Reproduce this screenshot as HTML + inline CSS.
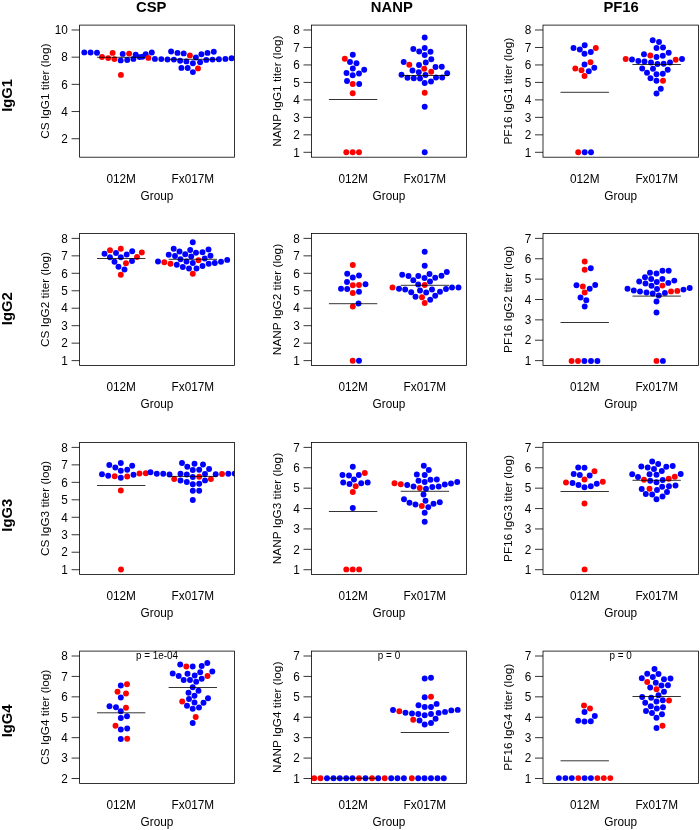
<!DOCTYPE html><html><head><meta charset="utf-8"><style>html,body{margin:0;padding:0;background:#fff}svg{display:block;will-change:transform}text{font-family:"Liberation Sans",sans-serif;fill:#000}</style></head><body>
<svg width="700" height="830" viewBox="0 0 700 830">
<rect width="700" height="830" fill="#fff"/>
<g>
<text x="151.2" y="12" font-size="14.8" font-weight="bold" text-anchor="middle">CSP</text>
<text x="391.8" y="12" font-size="14.8" font-weight="bold" text-anchor="middle">NANP</text>
<text x="621.1" y="12" font-size="14.8" font-weight="bold" text-anchor="middle">PF16</text>
<text transform="translate(12,95.4) rotate(-90)" font-size="14.8" font-weight="bold" text-anchor="middle">IgG1</text>
<line x1="71.60" y1="138.72" x2="79.6" y2="138.72" stroke="#000" stroke-width="0.8"/><text transform="translate(67.80,142.97) scale(1,1.06)" font-size="11.8" text-anchor="end">2</text><line x1="71.60" y1="111.54" x2="79.6" y2="111.54" stroke="#000" stroke-width="0.8"/><text transform="translate(67.80,115.79) scale(1,1.06)" font-size="11.8" text-anchor="end">4</text><line x1="71.60" y1="84.35" x2="79.6" y2="84.35" stroke="#000" stroke-width="0.8"/><text transform="translate(67.80,88.60) scale(1,1.06)" font-size="11.8" text-anchor="end">6</text><line x1="71.60" y1="57.17" x2="79.6" y2="57.17" stroke="#000" stroke-width="0.8"/><text transform="translate(67.80,61.42) scale(1,1.06)" font-size="11.8" text-anchor="end">8</text><line x1="71.60" y1="29.99" x2="79.6" y2="29.99" stroke="#000" stroke-width="0.8"/><text transform="translate(67.80,34.24) scale(1,1.06)" font-size="11.8" text-anchor="end">10</text><text transform="translate(49.00,91.15) rotate(-90)" font-size="11.8" text-anchor="middle">CS IgG1 titer (log)</text><text transform="translate(121.17,182.70) scale(1,1.06)" font-size="11.8" text-anchor="middle">012M</text><text transform="translate(192.83,182.70) scale(1,1.06)" font-size="11.8" text-anchor="middle">Fx017M</text><text transform="translate(157.00,199.95) scale(1,1.06)" font-size="11.8" text-anchor="middle">Group</text><clipPath id="c00"><rect x="79.6" y="25.1" width="154.80" height="132.10"/></clipPath><g clip-path="url(#c00)"><circle cx="84.3" cy="52.4" r="2.95" fill="#00f"/><circle cx="90.6" cy="52.5" r="2.95" fill="#00f"/><circle cx="97.0" cy="52.7" r="2.95" fill="#00f"/><circle cx="102.0" cy="57.0" r="2.95" fill="#f00"/><circle cx="108.2" cy="58.1" r="2.95" fill="#f00"/><circle cx="112.6" cy="52.9" r="2.95" fill="#f00"/><circle cx="114.4" cy="59.1" r="2.95" fill="#f00"/><circle cx="122.7" cy="53.9" r="2.95" fill="#00f"/><circle cx="120.7" cy="60.4" r="2.95" fill="#00f"/><circle cx="127.2" cy="60.0" r="2.95" fill="#00f"/><circle cx="129.1" cy="53.6" r="2.95" fill="#f00"/><circle cx="120.9" cy="74.9" r="2.95" fill="#f00"/><circle cx="133.4" cy="58.9" r="2.95" fill="#00f"/><circle cx="135.7" cy="54.6" r="2.95" fill="#00f"/><circle cx="139.6" cy="57.1" r="2.95" fill="#00f"/><circle cx="142.5" cy="56.8" r="2.95" fill="#00f"/><circle cx="145.7" cy="54.3" r="2.95" fill="#00f"/><circle cx="148.4" cy="57.9" r="2.95" fill="#f00"/><circle cx="151.8" cy="52.5" r="2.95" fill="#00f"/><circle cx="154.9" cy="58.9" r="2.95" fill="#00f"/><circle cx="161.3" cy="59.1" r="2.95" fill="#00f"/><circle cx="167.5" cy="59.5" r="2.95" fill="#00f"/><circle cx="171.1" cy="51.5" r="2.95" fill="#00f"/><circle cx="173.9" cy="59.6" r="2.95" fill="#00f"/><circle cx="177.5" cy="52.9" r="2.95" fill="#00f"/><circle cx="180.1" cy="60.7" r="2.95" fill="#00f"/><circle cx="183.7" cy="53.4" r="2.95" fill="#00f"/><circle cx="186.4" cy="61.4" r="2.95" fill="#00f"/><circle cx="189.9" cy="55.4" r="2.95" fill="#f00"/><circle cx="192.9" cy="63.2" r="2.95" fill="#00f"/><circle cx="195.9" cy="57.5" r="2.95" fill="#00f"/><circle cx="200.1" cy="62.2" r="2.95" fill="#00f"/><circle cx="201.4" cy="54.3" r="2.95" fill="#00f"/><circle cx="206.3" cy="59.9" r="2.95" fill="#00f"/><circle cx="207.5" cy="52.9" r="2.95" fill="#00f"/><circle cx="212.5" cy="59.6" r="2.95" fill="#00f"/><circle cx="213.8" cy="51.8" r="2.95" fill="#00f"/><circle cx="218.9" cy="59.3" r="2.95" fill="#00f"/><circle cx="225.4" cy="58.9" r="2.95" fill="#00f"/><circle cx="231.6" cy="58.2" r="2.95" fill="#00f"/><circle cx="181.4" cy="67.9" r="2.95" fill="#00f"/><circle cx="187.7" cy="68.0" r="2.95" fill="#00f"/><circle cx="198.0" cy="68.4" r="2.95" fill="#f00"/><circle cx="192.9" cy="72.1" r="2.95" fill="#00f"/></g><line x1="96.97" y1="57.3" x2="145.37" y2="57.3" stroke="#000" stroke-width="0.8"/><line x1="168.63" y1="59.3" x2="217.03" y2="59.3" stroke="#000" stroke-width="0.8"/><rect x="79.6" y="25.1" width="154.80" height="132.10" fill="none" stroke="#000" stroke-width="0.8"/>
<line x1="303.50" y1="152.31" x2="311.5" y2="152.31" stroke="#000" stroke-width="0.8"/><text transform="translate(299.70,156.56) scale(1,1.06)" font-size="11.8" text-anchor="end">1</text><line x1="303.50" y1="134.83" x2="311.5" y2="134.83" stroke="#000" stroke-width="0.8"/><text transform="translate(299.70,139.08) scale(1,1.06)" font-size="11.8" text-anchor="end">2</text><line x1="303.50" y1="117.36" x2="311.5" y2="117.36" stroke="#000" stroke-width="0.8"/><text transform="translate(299.70,121.61) scale(1,1.06)" font-size="11.8" text-anchor="end">3</text><line x1="303.50" y1="99.89" x2="311.5" y2="99.89" stroke="#000" stroke-width="0.8"/><text transform="translate(299.70,104.14) scale(1,1.06)" font-size="11.8" text-anchor="end">4</text><line x1="303.50" y1="82.41" x2="311.5" y2="82.41" stroke="#000" stroke-width="0.8"/><text transform="translate(299.70,86.66) scale(1,1.06)" font-size="11.8" text-anchor="end">5</text><line x1="303.50" y1="64.94" x2="311.5" y2="64.94" stroke="#000" stroke-width="0.8"/><text transform="translate(299.70,69.19) scale(1,1.06)" font-size="11.8" text-anchor="end">6</text><line x1="303.50" y1="47.47" x2="311.5" y2="47.47" stroke="#000" stroke-width="0.8"/><text transform="translate(299.70,51.72) scale(1,1.06)" font-size="11.8" text-anchor="end">7</text><line x1="303.50" y1="29.99" x2="311.5" y2="29.99" stroke="#000" stroke-width="0.8"/><text transform="translate(299.70,34.24) scale(1,1.06)" font-size="11.8" text-anchor="end">8</text><text transform="translate(280.90,91.15) rotate(-90)" font-size="11.8" text-anchor="middle">NANP IgG1 titer (log)</text><text transform="translate(353.12,182.70) scale(1,1.06)" font-size="11.8" text-anchor="middle">012M</text><text transform="translate(424.88,182.70) scale(1,1.06)" font-size="11.8" text-anchor="middle">Fx017M</text><text transform="translate(389.00,199.95) scale(1,1.06)" font-size="11.8" text-anchor="middle">Group</text><clipPath id="c01"><rect x="311.5" y="25.1" width="155.00" height="132.10"/></clipPath><g clip-path="url(#c01)"><circle cx="352.8" cy="54.7" r="2.95" fill="#00f"/><circle cx="344.8" cy="58.8" r="2.95" fill="#f00"/><circle cx="350.0" cy="62.0" r="2.95" fill="#00f"/><circle cx="356.5" cy="63.2" r="2.95" fill="#00f"/><circle cx="352.8" cy="68.5" r="2.95" fill="#00f"/><circle cx="364.2" cy="69.7" r="2.95" fill="#00f"/><circle cx="346.5" cy="73.0" r="2.95" fill="#00f"/><circle cx="352.7" cy="75.2" r="2.95" fill="#00f"/><circle cx="359.0" cy="73.5" r="2.95" fill="#00f"/><circle cx="347.0" cy="81.0" r="2.95" fill="#00f"/><circle cx="352.7" cy="84.0" r="2.95" fill="#f00"/><circle cx="359.2" cy="84.0" r="2.95" fill="#00f"/><circle cx="352.7" cy="93.2" r="2.95" fill="#f00"/><circle cx="346.3" cy="152.2" r="2.95" fill="#f00"/><circle cx="352.7" cy="152.2" r="2.95" fill="#f00"/><circle cx="359.0" cy="152.2" r="2.95" fill="#f00"/><circle cx="424.7" cy="37.5" r="2.95" fill="#00f"/><circle cx="413.3" cy="49.0" r="2.95" fill="#00f"/><circle cx="424.7" cy="48.0" r="2.95" fill="#00f"/><circle cx="419.2" cy="51.5" r="2.95" fill="#00f"/><circle cx="430.5" cy="51.8" r="2.95" fill="#00f"/><circle cx="424.7" cy="55.0" r="2.95" fill="#00f"/><circle cx="431.3" cy="59.2" r="2.95" fill="#00f"/><circle cx="403.7" cy="62.0" r="2.95" fill="#00f"/><circle cx="425.8" cy="62.5" r="2.95" fill="#00f"/><circle cx="409.3" cy="64.8" r="2.95" fill="#f00"/><circle cx="419.0" cy="65.0" r="2.95" fill="#00f"/><circle cx="424.2" cy="68.8" r="2.95" fill="#f00"/><circle cx="435.5" cy="67.0" r="2.95" fill="#00f"/><circle cx="441.8" cy="66.8" r="2.95" fill="#00f"/><circle cx="412.5" cy="70.5" r="2.95" fill="#00f"/><circle cx="418.8" cy="72.2" r="2.95" fill="#00f"/><circle cx="431.2" cy="71.8" r="2.95" fill="#f00"/><circle cx="447.2" cy="73.2" r="2.95" fill="#00f"/><circle cx="401.5" cy="74.8" r="2.95" fill="#00f"/><circle cx="425.5" cy="75.0" r="2.95" fill="#00f"/><circle cx="407.5" cy="77.8" r="2.95" fill="#00f"/><circle cx="413.8" cy="78.2" r="2.95" fill="#00f"/><circle cx="420.0" cy="78.5" r="2.95" fill="#00f"/><circle cx="436.0" cy="77.5" r="2.95" fill="#00f"/><circle cx="442.2" cy="77.5" r="2.95" fill="#00f"/><circle cx="424.7" cy="83.0" r="2.95" fill="#00f"/><circle cx="431.0" cy="81.5" r="2.95" fill="#00f"/><circle cx="424.7" cy="92.8" r="2.95" fill="#f00"/><circle cx="424.7" cy="106.8" r="2.95" fill="#00f"/><circle cx="424.7" cy="152.2" r="2.95" fill="#00f"/></g><line x1="328.92" y1="99.5" x2="377.32" y2="99.5" stroke="#000" stroke-width="0.8"/><line x1="400.68" y1="75.5" x2="449.08" y2="75.5" stroke="#000" stroke-width="0.8"/><rect x="311.5" y="25.1" width="155.00" height="132.10" fill="none" stroke="#000" stroke-width="0.8"/>
<line x1="535.00" y1="152.31" x2="543.0" y2="152.31" stroke="#000" stroke-width="0.8"/><text transform="translate(531.20,156.56) scale(1,1.06)" font-size="11.8" text-anchor="end">1</text><line x1="535.00" y1="134.83" x2="543.0" y2="134.83" stroke="#000" stroke-width="0.8"/><text transform="translate(531.20,139.08) scale(1,1.06)" font-size="11.8" text-anchor="end">2</text><line x1="535.00" y1="117.36" x2="543.0" y2="117.36" stroke="#000" stroke-width="0.8"/><text transform="translate(531.20,121.61) scale(1,1.06)" font-size="11.8" text-anchor="end">3</text><line x1="535.00" y1="99.89" x2="543.0" y2="99.89" stroke="#000" stroke-width="0.8"/><text transform="translate(531.20,104.14) scale(1,1.06)" font-size="11.8" text-anchor="end">4</text><line x1="535.00" y1="82.41" x2="543.0" y2="82.41" stroke="#000" stroke-width="0.8"/><text transform="translate(531.20,86.66) scale(1,1.06)" font-size="11.8" text-anchor="end">5</text><line x1="535.00" y1="64.94" x2="543.0" y2="64.94" stroke="#000" stroke-width="0.8"/><text transform="translate(531.20,69.19) scale(1,1.06)" font-size="11.8" text-anchor="end">6</text><line x1="535.00" y1="47.47" x2="543.0" y2="47.47" stroke="#000" stroke-width="0.8"/><text transform="translate(531.20,51.72) scale(1,1.06)" font-size="11.8" text-anchor="end">7</text><line x1="535.00" y1="29.99" x2="543.0" y2="29.99" stroke="#000" stroke-width="0.8"/><text transform="translate(531.20,34.24) scale(1,1.06)" font-size="11.8" text-anchor="end">8</text><text transform="translate(512.40,91.15) rotate(-90)" font-size="11.8" text-anchor="middle">PF16 IgG1 titer (log)</text><text transform="translate(584.73,182.70) scale(1,1.06)" font-size="11.8" text-anchor="middle">012M</text><text transform="translate(656.67,182.70) scale(1,1.06)" font-size="11.8" text-anchor="middle">Fx017M</text><text transform="translate(620.70,199.95) scale(1,1.06)" font-size="11.8" text-anchor="middle">Group</text><clipPath id="c02"><rect x="543.0" y="25.1" width="155.40" height="132.10"/></clipPath><g clip-path="url(#c02)"><circle cx="584.7" cy="45.3" r="2.95" fill="#00f"/><circle cx="573.5" cy="48.0" r="2.95" fill="#00f"/><circle cx="579.8" cy="49.5" r="2.95" fill="#00f"/><circle cx="595.8" cy="48.0" r="2.95" fill="#f00"/><circle cx="584.5" cy="53.8" r="2.95" fill="#00f"/><circle cx="590.8" cy="52.0" r="2.95" fill="#00f"/><circle cx="590.5" cy="62.2" r="2.95" fill="#f00"/><circle cx="584.5" cy="64.5" r="2.95" fill="#00f"/><circle cx="575.3" cy="68.5" r="2.95" fill="#f00"/><circle cx="594.3" cy="67.8" r="2.95" fill="#00f"/><circle cx="581.5" cy="70.2" r="2.95" fill="#f00"/><circle cx="588.8" cy="71.2" r="2.95" fill="#00f"/><circle cx="584.5" cy="76.0" r="2.95" fill="#f00"/><circle cx="578.2" cy="152.2" r="2.95" fill="#f00"/><circle cx="584.7" cy="152.2" r="2.95" fill="#00f"/><circle cx="591.0" cy="152.2" r="2.95" fill="#00f"/><circle cx="652.7" cy="40.2" r="2.95" fill="#00f"/><circle cx="659.0" cy="42.0" r="2.95" fill="#00f"/><circle cx="656.5" cy="48.0" r="2.95" fill="#00f"/><circle cx="663.0" cy="47.5" r="2.95" fill="#00f"/><circle cx="644.0" cy="54.2" r="2.95" fill="#00f"/><circle cx="650.3" cy="55.5" r="2.95" fill="#f00"/><circle cx="656.5" cy="57.0" r="2.95" fill="#00f"/><circle cx="662.8" cy="55.8" r="2.95" fill="#00f"/><circle cx="668.7" cy="52.8" r="2.95" fill="#00f"/><circle cx="625.7" cy="59.0" r="2.95" fill="#f00"/><circle cx="632.0" cy="59.5" r="2.95" fill="#00f"/><circle cx="638.3" cy="61.0" r="2.95" fill="#00f"/><circle cx="644.5" cy="61.5" r="2.95" fill="#00f"/><circle cx="651.0" cy="62.5" r="2.95" fill="#00f"/><circle cx="657.5" cy="64.0" r="2.95" fill="#00f"/><circle cx="663.7" cy="63.8" r="2.95" fill="#00f"/><circle cx="670.0" cy="62.5" r="2.95" fill="#00f"/><circle cx="675.7" cy="59.8" r="2.95" fill="#f00"/><circle cx="682.0" cy="59.0" r="2.95" fill="#00f"/><circle cx="642.2" cy="68.5" r="2.95" fill="#00f"/><circle cx="653.0" cy="68.8" r="2.95" fill="#00f"/><circle cx="667.7" cy="69.8" r="2.95" fill="#00f"/><circle cx="647.0" cy="72.8" r="2.95" fill="#00f"/><circle cx="656.5" cy="74.2" r="2.95" fill="#00f"/><circle cx="662.8" cy="73.8" r="2.95" fill="#00f"/><circle cx="650.5" cy="78.2" r="2.95" fill="#00f"/><circle cx="656.5" cy="80.8" r="2.95" fill="#00f"/><circle cx="663.0" cy="80.8" r="2.95" fill="#f00"/><circle cx="660.8" cy="88.8" r="2.95" fill="#00f"/><circle cx="656.5" cy="93.5" r="2.95" fill="#00f"/></g><line x1="560.53" y1="92.3" x2="608.93" y2="92.3" stroke="#000" stroke-width="0.8"/><line x1="632.47" y1="64.5" x2="680.87" y2="64.5" stroke="#000" stroke-width="0.8"/><rect x="543.0" y="25.1" width="155.40" height="132.10" fill="none" stroke="#000" stroke-width="0.8"/>
<text transform="translate(12,308.7) rotate(-90)" font-size="14.8" font-weight="bold" text-anchor="middle">IgG2</text>
<line x1="71.60" y1="360.61" x2="79.6" y2="360.61" stroke="#000" stroke-width="0.8"/><text transform="translate(67.80,364.86) scale(1,1.06)" font-size="11.8" text-anchor="end">1</text><line x1="71.60" y1="343.15" x2="79.6" y2="343.15" stroke="#000" stroke-width="0.8"/><text transform="translate(67.80,347.40) scale(1,1.06)" font-size="11.8" text-anchor="end">2</text><line x1="71.60" y1="325.69" x2="79.6" y2="325.69" stroke="#000" stroke-width="0.8"/><text transform="translate(67.80,329.94) scale(1,1.06)" font-size="11.8" text-anchor="end">3</text><line x1="71.60" y1="308.23" x2="79.6" y2="308.23" stroke="#000" stroke-width="0.8"/><text transform="translate(67.80,312.48) scale(1,1.06)" font-size="11.8" text-anchor="end">4</text><line x1="71.60" y1="290.77" x2="79.6" y2="290.77" stroke="#000" stroke-width="0.8"/><text transform="translate(67.80,295.02) scale(1,1.06)" font-size="11.8" text-anchor="end">5</text><line x1="71.60" y1="273.31" x2="79.6" y2="273.31" stroke="#000" stroke-width="0.8"/><text transform="translate(67.80,277.56) scale(1,1.06)" font-size="11.8" text-anchor="end">6</text><line x1="71.60" y1="255.85" x2="79.6" y2="255.85" stroke="#000" stroke-width="0.8"/><text transform="translate(67.80,260.10) scale(1,1.06)" font-size="11.8" text-anchor="end">7</text><line x1="71.60" y1="238.39" x2="79.6" y2="238.39" stroke="#000" stroke-width="0.8"/><text transform="translate(67.80,242.64) scale(1,1.06)" font-size="11.8" text-anchor="end">8</text><text transform="translate(49.00,299.50) rotate(-90)" font-size="11.8" text-anchor="middle">CS IgG2 titer (log)</text><text transform="translate(121.17,391.00) scale(1,1.06)" font-size="11.8" text-anchor="middle">012M</text><text transform="translate(192.83,391.00) scale(1,1.06)" font-size="11.8" text-anchor="middle">Fx017M</text><text transform="translate(157.00,408.25) scale(1,1.06)" font-size="11.8" text-anchor="middle">Group</text><clipPath id="c10"><rect x="79.6" y="233.5" width="154.80" height="132.00"/></clipPath><g clip-path="url(#c10)"><circle cx="104.5" cy="253.8" r="2.95" fill="#00f"/><circle cx="110.0" cy="250.3" r="2.95" fill="#f00"/><circle cx="110.0" cy="257.2" r="2.95" fill="#00f"/><circle cx="116.0" cy="253.0" r="2.95" fill="#00f"/><circle cx="120.8" cy="248.8" r="2.95" fill="#f00"/><circle cx="120.8" cy="257.2" r="2.95" fill="#00f"/><circle cx="126.7" cy="254.5" r="2.95" fill="#00f"/><circle cx="132.2" cy="251.2" r="2.95" fill="#00f"/><circle cx="141.8" cy="252.5" r="2.95" fill="#f00"/><circle cx="137.0" cy="257.0" r="2.95" fill="#f00"/><circle cx="114.5" cy="261.8" r="2.95" fill="#00f"/><circle cx="126.0" cy="263.2" r="2.95" fill="#f00"/><circle cx="132.0" cy="261.0" r="2.95" fill="#00f"/><circle cx="118.5" cy="266.8" r="2.95" fill="#00f"/><circle cx="124.5" cy="269.5" r="2.95" fill="#00f"/><circle cx="120.8" cy="274.8" r="2.95" fill="#f00"/><circle cx="192.8" cy="242.2" r="2.95" fill="#00f"/><circle cx="173.7" cy="248.8" r="2.95" fill="#00f"/><circle cx="179.5" cy="251.5" r="2.95" fill="#00f"/><circle cx="190.2" cy="250.0" r="2.95" fill="#00f"/><circle cx="196.0" cy="252.8" r="2.95" fill="#00f"/><circle cx="202.5" cy="252.2" r="2.95" fill="#00f"/><circle cx="208.5" cy="249.5" r="2.95" fill="#00f"/><circle cx="168.7" cy="254.8" r="2.95" fill="#00f"/><circle cx="175.0" cy="256.0" r="2.95" fill="#00f"/><circle cx="185.2" cy="254.2" r="2.95" fill="#00f"/><circle cx="191.2" cy="256.5" r="2.95" fill="#00f"/><circle cx="210.5" cy="255.8" r="2.95" fill="#00f"/><circle cx="180.5" cy="259.2" r="2.95" fill="#00f"/><circle cx="204.7" cy="258.5" r="2.95" fill="#00f"/><circle cx="198.5" cy="260.2" r="2.95" fill="#f00"/><circle cx="186.5" cy="261.5" r="2.95" fill="#00f"/><circle cx="192.8" cy="263.0" r="2.95" fill="#00f"/><circle cx="158.0" cy="261.5" r="2.95" fill="#00f"/><circle cx="164.3" cy="262.2" r="2.95" fill="#f00"/><circle cx="170.5" cy="263.8" r="2.95" fill="#f00"/><circle cx="176.8" cy="264.8" r="2.95" fill="#00f"/><circle cx="182.8" cy="267.0" r="2.95" fill="#00f"/><circle cx="189.0" cy="268.5" r="2.95" fill="#00f"/><circle cx="196.5" cy="268.5" r="2.95" fill="#00f"/><circle cx="202.5" cy="266.0" r="2.95" fill="#00f"/><circle cx="208.7" cy="263.8" r="2.95" fill="#00f"/><circle cx="214.8" cy="263.0" r="2.95" fill="#00f"/><circle cx="221.0" cy="261.8" r="2.95" fill="#00f"/><circle cx="227.2" cy="259.9" r="2.95" fill="#00f"/><circle cx="192.8" cy="273.8" r="2.95" fill="#f00"/></g><line x1="96.97" y1="258.5" x2="145.37" y2="258.5" stroke="#000" stroke-width="0.8"/><line x1="168.63" y1="259.3" x2="217.03" y2="259.3" stroke="#000" stroke-width="0.8"/><rect x="79.6" y="233.5" width="154.80" height="132.00" fill="none" stroke="#000" stroke-width="0.8"/>
<line x1="303.50" y1="360.61" x2="311.5" y2="360.61" stroke="#000" stroke-width="0.8"/><text transform="translate(299.70,364.86) scale(1,1.06)" font-size="11.8" text-anchor="end">1</text><line x1="303.50" y1="343.15" x2="311.5" y2="343.15" stroke="#000" stroke-width="0.8"/><text transform="translate(299.70,347.40) scale(1,1.06)" font-size="11.8" text-anchor="end">2</text><line x1="303.50" y1="325.69" x2="311.5" y2="325.69" stroke="#000" stroke-width="0.8"/><text transform="translate(299.70,329.94) scale(1,1.06)" font-size="11.8" text-anchor="end">3</text><line x1="303.50" y1="308.23" x2="311.5" y2="308.23" stroke="#000" stroke-width="0.8"/><text transform="translate(299.70,312.48) scale(1,1.06)" font-size="11.8" text-anchor="end">4</text><line x1="303.50" y1="290.77" x2="311.5" y2="290.77" stroke="#000" stroke-width="0.8"/><text transform="translate(299.70,295.02) scale(1,1.06)" font-size="11.8" text-anchor="end">5</text><line x1="303.50" y1="273.31" x2="311.5" y2="273.31" stroke="#000" stroke-width="0.8"/><text transform="translate(299.70,277.56) scale(1,1.06)" font-size="11.8" text-anchor="end">6</text><line x1="303.50" y1="255.85" x2="311.5" y2="255.85" stroke="#000" stroke-width="0.8"/><text transform="translate(299.70,260.10) scale(1,1.06)" font-size="11.8" text-anchor="end">7</text><line x1="303.50" y1="238.39" x2="311.5" y2="238.39" stroke="#000" stroke-width="0.8"/><text transform="translate(299.70,242.64) scale(1,1.06)" font-size="11.8" text-anchor="end">8</text><text transform="translate(280.90,299.50) rotate(-90)" font-size="11.8" text-anchor="middle">NANP IgG2 titer (log)</text><text transform="translate(353.12,391.00) scale(1,1.06)" font-size="11.8" text-anchor="middle">012M</text><text transform="translate(424.88,391.00) scale(1,1.06)" font-size="11.8" text-anchor="middle">Fx017M</text><text transform="translate(389.00,408.25) scale(1,1.06)" font-size="11.8" text-anchor="middle">Group</text><clipPath id="c11"><rect x="311.5" y="233.5" width="155.00" height="132.00"/></clipPath><g clip-path="url(#c11)"><circle cx="352.8" cy="265.0" r="2.95" fill="#f00"/><circle cx="347.2" cy="273.8" r="2.95" fill="#00f"/><circle cx="352.8" cy="277.5" r="2.95" fill="#00f"/><circle cx="359.0" cy="275.5" r="2.95" fill="#00f"/><circle cx="347.0" cy="282.0" r="2.95" fill="#00f"/><circle cx="352.8" cy="285.2" r="2.95" fill="#f00"/><circle cx="359.0" cy="285.0" r="2.95" fill="#f00"/><circle cx="365.5" cy="284.2" r="2.95" fill="#00f"/><circle cx="341.0" cy="288.8" r="2.95" fill="#00f"/><circle cx="347.2" cy="289.0" r="2.95" fill="#00f"/><circle cx="352.8" cy="293.0" r="2.95" fill="#f00"/><circle cx="359.0" cy="291.8" r="2.95" fill="#00f"/><circle cx="358.5" cy="303.5" r="2.95" fill="#00f"/><circle cx="352.8" cy="306.5" r="2.95" fill="#f00"/><circle cx="352.7" cy="360.8" r="2.95" fill="#f00"/><circle cx="359.0" cy="360.8" r="2.95" fill="#00f"/><circle cx="424.7" cy="251.8" r="2.95" fill="#00f"/><circle cx="424.7" cy="265.8" r="2.95" fill="#00f"/><circle cx="402.2" cy="274.8" r="2.95" fill="#00f"/><circle cx="408.5" cy="276.0" r="2.95" fill="#00f"/><circle cx="418.3" cy="276.0" r="2.95" fill="#00f"/><circle cx="429.5" cy="274.0" r="2.95" fill="#00f"/><circle cx="424.5" cy="278.0" r="2.95" fill="#00f"/><circle cx="435.2" cy="277.8" r="2.95" fill="#00f"/><circle cx="441.5" cy="275.8" r="2.95" fill="#00f"/><circle cx="446.8" cy="272.0" r="2.95" fill="#00f"/><circle cx="413.3" cy="280.2" r="2.95" fill="#00f"/><circle cx="430.0" cy="281.5" r="2.95" fill="#00f"/><circle cx="418.2" cy="284.5" r="2.95" fill="#00f"/><circle cx="424.7" cy="285.0" r="2.95" fill="#f00"/><circle cx="392.5" cy="287.5" r="2.95" fill="#f00"/><circle cx="399.0" cy="288.8" r="2.95" fill="#00f"/><circle cx="405.2" cy="289.5" r="2.95" fill="#00f"/><circle cx="411.2" cy="292.2" r="2.95" fill="#00f"/><circle cx="420.0" cy="290.5" r="2.95" fill="#00f"/><circle cx="426.2" cy="292.5" r="2.95" fill="#00f"/><circle cx="432.0" cy="289.5" r="2.95" fill="#00f"/><circle cx="440.0" cy="291.8" r="2.95" fill="#00f"/><circle cx="446.0" cy="289.0" r="2.95" fill="#00f"/><circle cx="452.0" cy="287.5" r="2.95" fill="#00f"/><circle cx="458.5" cy="287.5" r="2.95" fill="#00f"/><circle cx="415.5" cy="296.8" r="2.95" fill="#00f"/><circle cx="422.0" cy="297.2" r="2.95" fill="#f00"/><circle cx="435.2" cy="295.8" r="2.95" fill="#00f"/><circle cx="430.2" cy="299.8" r="2.95" fill="#00f"/><circle cx="424.7" cy="303.0" r="2.95" fill="#f00"/></g><line x1="328.92" y1="303.7" x2="377.32" y2="303.7" stroke="#000" stroke-width="0.8"/><line x1="400.68" y1="285.3" x2="449.08" y2="285.3" stroke="#000" stroke-width="0.8"/><rect x="311.5" y="233.5" width="155.00" height="132.00" fill="none" stroke="#000" stroke-width="0.8"/>
<line x1="535.00" y1="360.61" x2="543.0" y2="360.61" stroke="#000" stroke-width="0.8"/><text transform="translate(531.20,364.86) scale(1,1.06)" font-size="11.8" text-anchor="end">1</text><line x1="535.00" y1="340.24" x2="543.0" y2="340.24" stroke="#000" stroke-width="0.8"/><text transform="translate(531.20,344.49) scale(1,1.06)" font-size="11.8" text-anchor="end">2</text><line x1="535.00" y1="319.87" x2="543.0" y2="319.87" stroke="#000" stroke-width="0.8"/><text transform="translate(531.20,324.12) scale(1,1.06)" font-size="11.8" text-anchor="end">3</text><line x1="535.00" y1="299.50" x2="543.0" y2="299.50" stroke="#000" stroke-width="0.8"/><text transform="translate(531.20,303.75) scale(1,1.06)" font-size="11.8" text-anchor="end">4</text><line x1="535.00" y1="279.13" x2="543.0" y2="279.13" stroke="#000" stroke-width="0.8"/><text transform="translate(531.20,283.38) scale(1,1.06)" font-size="11.8" text-anchor="end">5</text><line x1="535.00" y1="258.76" x2="543.0" y2="258.76" stroke="#000" stroke-width="0.8"/><text transform="translate(531.20,263.01) scale(1,1.06)" font-size="11.8" text-anchor="end">6</text><line x1="535.00" y1="238.39" x2="543.0" y2="238.39" stroke="#000" stroke-width="0.8"/><text transform="translate(531.20,242.64) scale(1,1.06)" font-size="11.8" text-anchor="end">7</text><text transform="translate(512.40,299.50) rotate(-90)" font-size="11.8" text-anchor="middle">PF16 IgG2 titer (log)</text><text transform="translate(584.73,391.00) scale(1,1.06)" font-size="11.8" text-anchor="middle">012M</text><text transform="translate(656.67,391.00) scale(1,1.06)" font-size="11.8" text-anchor="middle">Fx017M</text><text transform="translate(620.70,408.25) scale(1,1.06)" font-size="11.8" text-anchor="middle">Group</text><clipPath id="c12"><rect x="543.0" y="233.5" width="155.40" height="132.00"/></clipPath><g clip-path="url(#c12)"><circle cx="584.7" cy="261.5" r="2.95" fill="#f00"/><circle cx="584.7" cy="269.8" r="2.95" fill="#f00"/><circle cx="590.8" cy="268.3" r="2.95" fill="#00f"/><circle cx="576.5" cy="285.2" r="2.95" fill="#00f"/><circle cx="582.8" cy="286.5" r="2.95" fill="#f00"/><circle cx="595.2" cy="285.0" r="2.95" fill="#00f"/><circle cx="589.7" cy="288.8" r="2.95" fill="#00f"/><circle cx="584.7" cy="292.5" r="2.95" fill="#f00"/><circle cx="580.5" cy="297.5" r="2.95" fill="#00f"/><circle cx="586.3" cy="300.2" r="2.95" fill="#00f"/><circle cx="584.7" cy="306.5" r="2.95" fill="#00f"/><circle cx="571.6" cy="361.0" r="2.95" fill="#f00"/><circle cx="578.0" cy="361.0" r="2.95" fill="#f00"/><circle cx="584.4" cy="361.0" r="2.95" fill="#00f"/><circle cx="591.0" cy="361.0" r="2.95" fill="#00f"/><circle cx="597.4" cy="361.0" r="2.95" fill="#00f"/><circle cx="656.5" cy="360.9" r="2.95" fill="#f00"/><circle cx="662.9" cy="360.9" r="2.95" fill="#00f"/><circle cx="650.0" cy="272.8" r="2.95" fill="#00f"/><circle cx="656.5" cy="273.5" r="2.95" fill="#00f"/><circle cx="662.5" cy="270.8" r="2.95" fill="#00f"/><circle cx="668.7" cy="270.7" r="2.95" fill="#00f"/><circle cx="645.0" cy="277.2" r="2.95" fill="#00f"/><circle cx="651.2" cy="279.0" r="2.95" fill="#00f"/><circle cx="662.4" cy="278.9" r="2.95" fill="#00f"/><circle cx="674.3" cy="280.6" r="2.95" fill="#00f"/><circle cx="639.2" cy="281.5" r="2.95" fill="#00f"/><circle cx="645.5" cy="283.5" r="2.95" fill="#00f"/><circle cx="656.8" cy="282.0" r="2.95" fill="#00f"/><circle cx="668.3" cy="282.9" r="2.95" fill="#00f"/><circle cx="651.5" cy="285.8" r="2.95" fill="#00f"/><circle cx="662.4" cy="285.6" r="2.95" fill="#f00"/><circle cx="657.0" cy="289.0" r="2.95" fill="#00f"/><circle cx="627.5" cy="288.8" r="2.95" fill="#00f"/><circle cx="633.8" cy="290.5" r="2.95" fill="#00f"/><circle cx="640.0" cy="291.5" r="2.95" fill="#00f"/><circle cx="646.5" cy="292.5" r="2.95" fill="#00f"/><circle cx="652.7" cy="293.5" r="2.95" fill="#00f"/><circle cx="658.8" cy="295.5" r="2.95" fill="#00f"/><circle cx="664.9" cy="292.9" r="2.95" fill="#00f"/><circle cx="671.0" cy="291.4" r="2.95" fill="#f00"/><circle cx="677.3" cy="290.9" r="2.95" fill="#f00"/><circle cx="683.5" cy="289.6" r="2.95" fill="#00f"/><circle cx="689.7" cy="288.0" r="2.95" fill="#00f"/><circle cx="656.5" cy="301.5" r="2.95" fill="#00f"/><circle cx="656.5" cy="312.5" r="2.95" fill="#00f"/></g><line x1="560.53" y1="322.5" x2="608.93" y2="322.5" stroke="#000" stroke-width="0.8"/><line x1="632.47" y1="296.1" x2="680.87" y2="296.1" stroke="#000" stroke-width="0.8"/><rect x="543.0" y="233.5" width="155.40" height="132.00" fill="none" stroke="#000" stroke-width="0.8"/>
<text transform="translate(12,515.2) rotate(-90)" font-size="14.8" font-weight="bold" text-anchor="middle">IgG3</text>
<line x1="71.60" y1="569.71" x2="79.6" y2="569.71" stroke="#000" stroke-width="0.8"/><text transform="translate(67.80,573.96) scale(1,1.06)" font-size="11.8" text-anchor="end">1</text><line x1="71.60" y1="552.23" x2="79.6" y2="552.23" stroke="#000" stroke-width="0.8"/><text transform="translate(67.80,556.48) scale(1,1.06)" font-size="11.8" text-anchor="end">2</text><line x1="71.60" y1="534.76" x2="79.6" y2="534.76" stroke="#000" stroke-width="0.8"/><text transform="translate(67.80,539.01) scale(1,1.06)" font-size="11.8" text-anchor="end">3</text><line x1="71.60" y1="517.29" x2="79.6" y2="517.29" stroke="#000" stroke-width="0.8"/><text transform="translate(67.80,521.54) scale(1,1.06)" font-size="11.8" text-anchor="end">4</text><line x1="71.60" y1="499.81" x2="79.6" y2="499.81" stroke="#000" stroke-width="0.8"/><text transform="translate(67.80,504.06) scale(1,1.06)" font-size="11.8" text-anchor="end">5</text><line x1="71.60" y1="482.34" x2="79.6" y2="482.34" stroke="#000" stroke-width="0.8"/><text transform="translate(67.80,486.59) scale(1,1.06)" font-size="11.8" text-anchor="end">6</text><line x1="71.60" y1="464.87" x2="79.6" y2="464.87" stroke="#000" stroke-width="0.8"/><text transform="translate(67.80,469.12) scale(1,1.06)" font-size="11.8" text-anchor="end">7</text><line x1="71.60" y1="447.39" x2="79.6" y2="447.39" stroke="#000" stroke-width="0.8"/><text transform="translate(67.80,451.64) scale(1,1.06)" font-size="11.8" text-anchor="end">8</text><text transform="translate(49.00,508.55) rotate(-90)" font-size="11.8" text-anchor="middle">CS IgG3 titer (log)</text><text transform="translate(121.17,600.10) scale(1,1.06)" font-size="11.8" text-anchor="middle">012M</text><text transform="translate(192.83,600.10) scale(1,1.06)" font-size="11.8" text-anchor="middle">Fx017M</text><text transform="translate(157.00,617.35) scale(1,1.06)" font-size="11.8" text-anchor="middle">Group</text><clipPath id="c20"><rect x="79.6" y="442.5" width="154.80" height="132.10"/></clipPath><g clip-path="url(#c20)"><circle cx="120.8" cy="463.0" r="2.95" fill="#00f"/><circle cx="109.3" cy="465.0" r="2.95" fill="#00f"/><circle cx="115.3" cy="467.5" r="2.95" fill="#00f"/><circle cx="132.2" cy="465.8" r="2.95" fill="#00f"/><circle cx="120.8" cy="470.8" r="2.95" fill="#00f"/><circle cx="127.2" cy="469.8" r="2.95" fill="#00f"/><circle cx="102.0" cy="474.2" r="2.95" fill="#00f"/><circle cx="108.2" cy="475.8" r="2.95" fill="#00f"/><circle cx="114.7" cy="476.2" r="2.95" fill="#f00"/><circle cx="120.8" cy="477.8" r="2.95" fill="#00f"/><circle cx="127.2" cy="476.5" r="2.95" fill="#f00"/><circle cx="133.5" cy="474.8" r="2.95" fill="#00f"/><circle cx="139.5" cy="473.5" r="2.95" fill="#f00"/><circle cx="145.8" cy="473.2" r="2.95" fill="#f00"/><circle cx="150.5" cy="472.2" r="2.95" fill="#00f"/><circle cx="156.8" cy="473.8" r="2.95" fill="#00f"/><circle cx="163.2" cy="473.8" r="2.95" fill="#00f"/><circle cx="169.5" cy="474.5" r="2.95" fill="#00f"/><circle cx="120.8" cy="490.5" r="2.95" fill="#f00"/><circle cx="121.0" cy="569.5" r="2.95" fill="#f00"/><circle cx="174.2" cy="479.0" r="2.95" fill="#f00"/><circle cx="182.0" cy="463.0" r="2.95" fill="#00f"/><circle cx="187.3" cy="466.8" r="2.95" fill="#00f"/><circle cx="194.5" cy="463.8" r="2.95" fill="#00f"/><circle cx="203.0" cy="464.5" r="2.95" fill="#00f"/><circle cx="192.8" cy="470.0" r="2.95" fill="#00f"/><circle cx="199.2" cy="469.8" r="2.95" fill="#00f"/><circle cx="209.1" cy="469.0" r="2.95" fill="#00f"/><circle cx="180.5" cy="473.8" r="2.95" fill="#00f"/><circle cx="186.8" cy="474.5" r="2.95" fill="#00f"/><circle cx="192.8" cy="477.0" r="2.95" fill="#00f"/><circle cx="199.2" cy="476.7" r="2.95" fill="#f00"/><circle cx="205.0" cy="474.0" r="2.95" fill="#00f"/><circle cx="180.5" cy="480.5" r="2.95" fill="#00f"/><circle cx="186.8" cy="482.0" r="2.95" fill="#00f"/><circle cx="192.8" cy="484.2" r="2.95" fill="#00f"/><circle cx="199.2" cy="483.7" r="2.95" fill="#00f"/><circle cx="205.0" cy="480.4" r="2.95" fill="#00f"/><circle cx="210.9" cy="479.1" r="2.95" fill="#f00"/><circle cx="215.7" cy="474.3" r="2.95" fill="#00f"/><circle cx="222.0" cy="474.0" r="2.95" fill="#f00"/><circle cx="228.3" cy="473.8" r="2.95" fill="#00f"/><circle cx="234.6" cy="473.6" r="2.95" fill="#00f"/><circle cx="192.8" cy="490.8" r="2.95" fill="#00f"/><circle cx="199.2" cy="490.7" r="2.95" fill="#00f"/><circle cx="192.8" cy="500.0" r="2.95" fill="#00f"/></g><line x1="96.97" y1="485.5" x2="145.37" y2="485.5" stroke="#000" stroke-width="0.8"/><line x1="168.63" y1="476.4" x2="217.03" y2="476.4" stroke="#000" stroke-width="0.8"/><rect x="79.6" y="442.5" width="154.80" height="132.10" fill="none" stroke="#000" stroke-width="0.8"/>
<line x1="303.50" y1="569.71" x2="311.5" y2="569.71" stroke="#000" stroke-width="0.8"/><text transform="translate(299.70,573.96) scale(1,1.06)" font-size="11.8" text-anchor="end">1</text><line x1="303.50" y1="549.32" x2="311.5" y2="549.32" stroke="#000" stroke-width="0.8"/><text transform="translate(299.70,553.57) scale(1,1.06)" font-size="11.8" text-anchor="end">2</text><line x1="303.50" y1="528.94" x2="311.5" y2="528.94" stroke="#000" stroke-width="0.8"/><text transform="translate(299.70,533.19) scale(1,1.06)" font-size="11.8" text-anchor="end">3</text><line x1="303.50" y1="508.55" x2="311.5" y2="508.55" stroke="#000" stroke-width="0.8"/><text transform="translate(299.70,512.80) scale(1,1.06)" font-size="11.8" text-anchor="end">4</text><line x1="303.50" y1="488.16" x2="311.5" y2="488.16" stroke="#000" stroke-width="0.8"/><text transform="translate(299.70,492.41) scale(1,1.06)" font-size="11.8" text-anchor="end">5</text><line x1="303.50" y1="467.78" x2="311.5" y2="467.78" stroke="#000" stroke-width="0.8"/><text transform="translate(299.70,472.03) scale(1,1.06)" font-size="11.8" text-anchor="end">6</text><line x1="303.50" y1="447.39" x2="311.5" y2="447.39" stroke="#000" stroke-width="0.8"/><text transform="translate(299.70,451.64) scale(1,1.06)" font-size="11.8" text-anchor="end">7</text><text transform="translate(280.90,508.55) rotate(-90)" font-size="11.8" text-anchor="middle">NANP IgG3 titer (log)</text><text transform="translate(353.12,600.10) scale(1,1.06)" font-size="11.8" text-anchor="middle">012M</text><text transform="translate(424.88,600.10) scale(1,1.06)" font-size="11.8" text-anchor="middle">Fx017M</text><text transform="translate(389.00,617.35) scale(1,1.06)" font-size="11.8" text-anchor="middle">Group</text><clipPath id="c21"><rect x="311.5" y="442.5" width="155.00" height="132.10"/></clipPath><g clip-path="url(#c21)"><circle cx="352.8" cy="466.8" r="2.95" fill="#00f"/><circle cx="342.5" cy="475.0" r="2.95" fill="#00f"/><circle cx="349.0" cy="475.5" r="2.95" fill="#00f"/><circle cx="358.8" cy="475.0" r="2.95" fill="#00f"/><circle cx="364.8" cy="473.0" r="2.95" fill="#f00"/><circle cx="354.0" cy="479.5" r="2.95" fill="#00f"/><circle cx="343.2" cy="482.5" r="2.95" fill="#00f"/><circle cx="349.5" cy="484.0" r="2.95" fill="#00f"/><circle cx="355.7" cy="486.2" r="2.95" fill="#f00"/><circle cx="361.2" cy="483.2" r="2.95" fill="#00f"/><circle cx="367.7" cy="482.5" r="2.95" fill="#00f"/><circle cx="352.8" cy="492.0" r="2.95" fill="#f00"/><circle cx="352.8" cy="508.0" r="2.95" fill="#00f"/><circle cx="346.3" cy="569.4" r="2.95" fill="#f00"/><circle cx="352.7" cy="569.4" r="2.95" fill="#f00"/><circle cx="359.1" cy="569.4" r="2.95" fill="#f00"/><circle cx="423.8" cy="465.8" r="2.95" fill="#00f"/><circle cx="428.8" cy="470.0" r="2.95" fill="#00f"/><circle cx="416.8" cy="474.5" r="2.95" fill="#00f"/><circle cx="424.7" cy="475.0" r="2.95" fill="#00f"/><circle cx="418.5" cy="480.8" r="2.95" fill="#00f"/><circle cx="424.7" cy="482.0" r="2.95" fill="#00f"/><circle cx="430.5" cy="479.8" r="2.95" fill="#00f"/><circle cx="436.8" cy="479.5" r="2.95" fill="#00f"/><circle cx="394.5" cy="483.2" r="2.95" fill="#f00"/><circle cx="400.8" cy="484.2" r="2.95" fill="#f00"/><circle cx="407.2" cy="485.0" r="2.95" fill="#00f"/><circle cx="413.5" cy="486.5" r="2.95" fill="#00f"/><circle cx="419.7" cy="488.0" r="2.95" fill="#f00"/><circle cx="426.0" cy="488.8" r="2.95" fill="#00f"/><circle cx="432.3" cy="487.0" r="2.95" fill="#00f"/><circle cx="438.7" cy="486.5" r="2.95" fill="#00f"/><circle cx="444.8" cy="484.5" r="2.95" fill="#00f"/><circle cx="451.0" cy="483.5" r="2.95" fill="#00f"/><circle cx="457.2" cy="482.0" r="2.95" fill="#00f"/><circle cx="423.5" cy="494.5" r="2.95" fill="#00f"/><circle cx="404.0" cy="499.2" r="2.95" fill="#00f"/><circle cx="409.5" cy="502.8" r="2.95" fill="#00f"/><circle cx="415.5" cy="504.5" r="2.95" fill="#00f"/><circle cx="425.5" cy="500.8" r="2.95" fill="#00f"/><circle cx="421.8" cy="506.0" r="2.95" fill="#f00"/><circle cx="428.3" cy="507.2" r="2.95" fill="#00f"/><circle cx="433.5" cy="503.8" r="2.95" fill="#00f"/><circle cx="439.8" cy="502.2" r="2.95" fill="#00f"/><circle cx="424.7" cy="512.8" r="2.95" fill="#00f"/><circle cx="424.7" cy="521.8" r="2.95" fill="#00f"/></g><line x1="328.92" y1="511.5" x2="377.32" y2="511.5" stroke="#000" stroke-width="0.8"/><line x1="400.68" y1="491.3" x2="449.08" y2="491.3" stroke="#000" stroke-width="0.8"/><rect x="311.5" y="442.5" width="155.00" height="132.10" fill="none" stroke="#000" stroke-width="0.8"/>
<line x1="535.00" y1="569.71" x2="543.0" y2="569.71" stroke="#000" stroke-width="0.8"/><text transform="translate(531.20,573.96) scale(1,1.06)" font-size="11.8" text-anchor="end">1</text><line x1="535.00" y1="549.32" x2="543.0" y2="549.32" stroke="#000" stroke-width="0.8"/><text transform="translate(531.20,553.57) scale(1,1.06)" font-size="11.8" text-anchor="end">2</text><line x1="535.00" y1="528.94" x2="543.0" y2="528.94" stroke="#000" stroke-width="0.8"/><text transform="translate(531.20,533.19) scale(1,1.06)" font-size="11.8" text-anchor="end">3</text><line x1="535.00" y1="508.55" x2="543.0" y2="508.55" stroke="#000" stroke-width="0.8"/><text transform="translate(531.20,512.80) scale(1,1.06)" font-size="11.8" text-anchor="end">4</text><line x1="535.00" y1="488.16" x2="543.0" y2="488.16" stroke="#000" stroke-width="0.8"/><text transform="translate(531.20,492.41) scale(1,1.06)" font-size="11.8" text-anchor="end">5</text><line x1="535.00" y1="467.78" x2="543.0" y2="467.78" stroke="#000" stroke-width="0.8"/><text transform="translate(531.20,472.03) scale(1,1.06)" font-size="11.8" text-anchor="end">6</text><line x1="535.00" y1="447.39" x2="543.0" y2="447.39" stroke="#000" stroke-width="0.8"/><text transform="translate(531.20,451.64) scale(1,1.06)" font-size="11.8" text-anchor="end">7</text><text transform="translate(512.40,508.55) rotate(-90)" font-size="11.8" text-anchor="middle">PF16 IgG3 titer (log)</text><text transform="translate(584.73,600.10) scale(1,1.06)" font-size="11.8" text-anchor="middle">012M</text><text transform="translate(656.67,600.10) scale(1,1.06)" font-size="11.8" text-anchor="middle">Fx017M</text><text transform="translate(620.70,617.35) scale(1,1.06)" font-size="11.8" text-anchor="middle">Group</text><clipPath id="c22"><rect x="543.0" y="442.5" width="155.40" height="132.10"/></clipPath><g clip-path="url(#c22)"><circle cx="578.2" cy="467.5" r="2.95" fill="#00f"/><circle cx="584.5" cy="467.8" r="2.95" fill="#00f"/><circle cx="594.5" cy="471.2" r="2.95" fill="#f00"/><circle cx="573.7" cy="474.0" r="2.95" fill="#00f"/><circle cx="579.8" cy="475.0" r="2.95" fill="#00f"/><circle cx="589.7" cy="475.5" r="2.95" fill="#00f"/><circle cx="584.5" cy="479.5" r="2.95" fill="#f00"/><circle cx="566.0" cy="482.5" r="2.95" fill="#f00"/><circle cx="572.5" cy="483.0" r="2.95" fill="#00f"/><circle cx="578.5" cy="485.0" r="2.95" fill="#00f"/><circle cx="584.5" cy="487.2" r="2.95" fill="#00f"/><circle cx="590.8" cy="486.2" r="2.95" fill="#00f"/><circle cx="596.8" cy="483.8" r="2.95" fill="#00f"/><circle cx="602.8" cy="481.8" r="2.95" fill="#f00"/><circle cx="584.5" cy="503.5" r="2.95" fill="#f00"/><circle cx="584.6" cy="569.4" r="2.95" fill="#f00"/><circle cx="652.2" cy="461.5" r="2.95" fill="#00f"/><circle cx="658.2" cy="464.0" r="2.95" fill="#00f"/><circle cx="641.3" cy="466.5" r="2.95" fill="#00f"/><circle cx="647.7" cy="467.5" r="2.95" fill="#00f"/><circle cx="654.0" cy="469.0" r="2.95" fill="#00f"/><circle cx="666.3" cy="466.8" r="2.95" fill="#00f"/><circle cx="672.7" cy="466.0" r="2.95" fill="#00f"/><circle cx="661.8" cy="471.0" r="2.95" fill="#00f"/><circle cx="632.2" cy="474.2" r="2.95" fill="#00f"/><circle cx="649.5" cy="474.2" r="2.95" fill="#00f"/><circle cx="656.5" cy="474.8" r="2.95" fill="#00f"/><circle cx="680.7" cy="474.0" r="2.95" fill="#00f"/><circle cx="638.0" cy="477.0" r="2.95" fill="#00f"/><circle cx="644.0" cy="479.8" r="2.95" fill="#f00"/><circle cx="674.8" cy="476.8" r="2.95" fill="#f00"/><circle cx="668.7" cy="478.8" r="2.95" fill="#f00"/><circle cx="650.2" cy="480.8" r="2.95" fill="#00f"/><circle cx="656.5" cy="482.2" r="2.95" fill="#00f"/><circle cx="662.7" cy="480.0" r="2.95" fill="#00f"/><circle cx="641.7" cy="489.0" r="2.95" fill="#00f"/><circle cx="649.5" cy="488.8" r="2.95" fill="#f00"/><circle cx="657.0" cy="490.0" r="2.95" fill="#00f"/><circle cx="662.2" cy="486.8" r="2.95" fill="#00f"/><circle cx="669.0" cy="486.2" r="2.95" fill="#00f"/><circle cx="675.5" cy="485.5" r="2.95" fill="#00f"/><circle cx="645.8" cy="494.0" r="2.95" fill="#00f"/><circle cx="652.2" cy="494.5" r="2.95" fill="#00f"/><circle cx="667.0" cy="492.0" r="2.95" fill="#00f"/><circle cx="662.5" cy="496.5" r="2.95" fill="#00f"/><circle cx="656.5" cy="499.2" r="2.95" fill="#00f"/></g><line x1="560.53" y1="491.5" x2="608.93" y2="491.5" stroke="#000" stroke-width="0.8"/><line x1="632.47" y1="480.3" x2="680.87" y2="480.3" stroke="#000" stroke-width="0.8"/><rect x="543.0" y="442.5" width="155.40" height="132.10" fill="none" stroke="#000" stroke-width="0.8"/>
<text transform="translate(12,720.9) rotate(-90)" font-size="14.8" font-weight="bold" text-anchor="middle">IgG4</text>
<line x1="71.60" y1="778.50" x2="79.6" y2="778.50" stroke="#000" stroke-width="0.8"/><text transform="translate(67.80,782.75) scale(1,1.06)" font-size="11.8" text-anchor="end">2</text><line x1="71.60" y1="758.08" x2="79.6" y2="758.08" stroke="#000" stroke-width="0.8"/><text transform="translate(67.80,762.33) scale(1,1.06)" font-size="11.8" text-anchor="end">3</text><line x1="71.60" y1="737.67" x2="79.6" y2="737.67" stroke="#000" stroke-width="0.8"/><text transform="translate(67.80,741.92) scale(1,1.06)" font-size="11.8" text-anchor="end">4</text><line x1="71.60" y1="717.25" x2="79.6" y2="717.25" stroke="#000" stroke-width="0.8"/><text transform="translate(67.80,721.50) scale(1,1.06)" font-size="11.8" text-anchor="end">5</text><line x1="71.60" y1="696.83" x2="79.6" y2="696.83" stroke="#000" stroke-width="0.8"/><text transform="translate(67.80,701.08) scale(1,1.06)" font-size="11.8" text-anchor="end">6</text><line x1="71.60" y1="676.42" x2="79.6" y2="676.42" stroke="#000" stroke-width="0.8"/><text transform="translate(67.80,680.67) scale(1,1.06)" font-size="11.8" text-anchor="end">7</text><line x1="71.60" y1="656.00" x2="79.6" y2="656.00" stroke="#000" stroke-width="0.8"/><text transform="translate(67.80,660.25) scale(1,1.06)" font-size="11.8" text-anchor="end">8</text><text transform="translate(49.00,717.25) rotate(-90)" font-size="11.8" text-anchor="middle">CS IgG4 titer (log)</text><text transform="translate(121.17,808.90) scale(1,1.06)" font-size="11.8" text-anchor="middle">012M</text><text transform="translate(192.83,808.90) scale(1,1.06)" font-size="11.8" text-anchor="middle">Fx017M</text><text transform="translate(157.00,826.15) scale(1,1.06)" font-size="11.8" text-anchor="middle">Group</text><text transform="translate(157.00,659.10) scale(1,1.06)" font-size="9.9" text-anchor="middle">p = 1e-04</text><clipPath id="c30"><rect x="79.6" y="651.1" width="154.80" height="132.30"/></clipPath><g clip-path="url(#c30)"><circle cx="120.8" cy="685.5" r="2.95" fill="#00f"/><circle cx="127.0" cy="684.2" r="2.95" fill="#f00"/><circle cx="117.5" cy="691.8" r="2.95" fill="#f00"/><circle cx="126.0" cy="693.5" r="2.95" fill="#f00"/><circle cx="120.8" cy="697.5" r="2.95" fill="#00f"/><circle cx="109.5" cy="706.2" r="2.95" fill="#00f"/><circle cx="116.0" cy="707.2" r="2.95" fill="#00f"/><circle cx="126.0" cy="707.8" r="2.95" fill="#f00"/><circle cx="120.8" cy="711.2" r="2.95" fill="#00f"/><circle cx="120.8" cy="718.0" r="2.95" fill="#00f"/><circle cx="127.0" cy="716.2" r="2.95" fill="#00f"/><circle cx="115.5" cy="725.8" r="2.95" fill="#f00"/><circle cx="120.8" cy="729.5" r="2.95" fill="#00f"/><circle cx="127.2" cy="728.5" r="2.95" fill="#00f"/><circle cx="120.8" cy="739.0" r="2.95" fill="#00f"/><circle cx="127.2" cy="738.8" r="2.95" fill="#f00"/><circle cx="180.2" cy="664.5" r="2.95" fill="#00f"/><circle cx="186.3" cy="666.5" r="2.95" fill="#f00"/><circle cx="192.7" cy="666.5" r="2.95" fill="#00f"/><circle cx="201.7" cy="666.0" r="2.95" fill="#00f"/><circle cx="207.3" cy="663.0" r="2.95" fill="#00f"/><circle cx="172.7" cy="673.5" r="2.95" fill="#00f"/><circle cx="178.7" cy="676.0" r="2.95" fill="#00f"/><circle cx="187.5" cy="673.8" r="2.95" fill="#00f"/><circle cx="194.7" cy="675.5" r="2.95" fill="#00f"/><circle cx="200.2" cy="672.2" r="2.95" fill="#00f"/><circle cx="212.3" cy="671.5" r="2.95" fill="#00f"/><circle cx="207.5" cy="676.0" r="2.95" fill="#f00"/><circle cx="183.7" cy="680.0" r="2.95" fill="#00f"/><circle cx="190.0" cy="680.0" r="2.95" fill="#00f"/><circle cx="196.2" cy="681.8" r="2.95" fill="#00f"/><circle cx="201.7" cy="678.8" r="2.95" fill="#00f"/><circle cx="192.7" cy="687.2" r="2.95" fill="#00f"/><circle cx="198.5" cy="690.8" r="2.95" fill="#00f"/><circle cx="188.5" cy="692.8" r="2.95" fill="#00f"/><circle cx="194.5" cy="695.8" r="2.95" fill="#00f"/><circle cx="189.0" cy="699.0" r="2.95" fill="#00f"/><circle cx="208.0" cy="698.2" r="2.95" fill="#00f"/><circle cx="182.2" cy="701.5" r="2.95" fill="#f00"/><circle cx="194.5" cy="702.5" r="2.95" fill="#00f"/><circle cx="203.5" cy="702.8" r="2.95" fill="#00f"/><circle cx="187.0" cy="705.8" r="2.95" fill="#00f"/><circle cx="192.7" cy="708.8" r="2.95" fill="#00f"/><circle cx="199.0" cy="707.5" r="2.95" fill="#00f"/><circle cx="195.7" cy="717.0" r="2.95" fill="#f00"/><circle cx="192.7" cy="723.0" r="2.95" fill="#00f"/></g><line x1="96.97" y1="712.8" x2="145.37" y2="712.8" stroke="#000" stroke-width="0.8"/><line x1="168.63" y1="687.5" x2="217.03" y2="687.5" stroke="#000" stroke-width="0.8"/><rect x="79.6" y="651.1" width="154.80" height="132.30" fill="none" stroke="#000" stroke-width="0.8"/>
<line x1="303.50" y1="778.50" x2="311.5" y2="778.50" stroke="#000" stroke-width="0.8"/><text transform="translate(299.70,782.75) scale(1,1.06)" font-size="11.8" text-anchor="end">1</text><line x1="303.50" y1="758.08" x2="311.5" y2="758.08" stroke="#000" stroke-width="0.8"/><text transform="translate(299.70,762.33) scale(1,1.06)" font-size="11.8" text-anchor="end">2</text><line x1="303.50" y1="737.67" x2="311.5" y2="737.67" stroke="#000" stroke-width="0.8"/><text transform="translate(299.70,741.92) scale(1,1.06)" font-size="11.8" text-anchor="end">3</text><line x1="303.50" y1="717.25" x2="311.5" y2="717.25" stroke="#000" stroke-width="0.8"/><text transform="translate(299.70,721.50) scale(1,1.06)" font-size="11.8" text-anchor="end">4</text><line x1="303.50" y1="696.83" x2="311.5" y2="696.83" stroke="#000" stroke-width="0.8"/><text transform="translate(299.70,701.08) scale(1,1.06)" font-size="11.8" text-anchor="end">5</text><line x1="303.50" y1="676.42" x2="311.5" y2="676.42" stroke="#000" stroke-width="0.8"/><text transform="translate(299.70,680.67) scale(1,1.06)" font-size="11.8" text-anchor="end">6</text><line x1="303.50" y1="656.00" x2="311.5" y2="656.00" stroke="#000" stroke-width="0.8"/><text transform="translate(299.70,660.25) scale(1,1.06)" font-size="11.8" text-anchor="end">7</text><text transform="translate(280.90,717.25) rotate(-90)" font-size="11.8" text-anchor="middle">NANP IgG4 titer (log)</text><text transform="translate(353.12,808.90) scale(1,1.06)" font-size="11.8" text-anchor="middle">012M</text><text transform="translate(424.88,808.90) scale(1,1.06)" font-size="11.8" text-anchor="middle">Fx017M</text><text transform="translate(389.00,826.15) scale(1,1.06)" font-size="11.8" text-anchor="middle">Group</text><text transform="translate(389.00,659.10) scale(1,1.06)" font-size="9.9" text-anchor="middle">p = 0</text><clipPath id="c31"><rect x="311.5" y="651.1" width="155.00" height="132.30"/></clipPath><g clip-path="url(#c31)"><circle cx="314.2" cy="778.2" r="2.95" fill="#f00"/><circle cx="320.5" cy="778.2" r="2.95" fill="#f00"/><circle cx="327.0" cy="778.2" r="2.95" fill="#00f"/><circle cx="333.5" cy="778.2" r="2.95" fill="#00f"/><circle cx="339.8" cy="778.2" r="2.95" fill="#00f"/><circle cx="346.2" cy="778.2" r="2.95" fill="#00f"/><circle cx="352.5" cy="778.2" r="2.95" fill="#00f"/><circle cx="359.0" cy="778.2" r="2.95" fill="#f00"/><circle cx="365.5" cy="778.2" r="2.95" fill="#00f"/><circle cx="372.0" cy="778.2" r="2.95" fill="#f00"/><circle cx="378.2" cy="778.2" r="2.95" fill="#00f"/><circle cx="384.7" cy="778.2" r="2.95" fill="#f00"/><circle cx="391.2" cy="778.2" r="2.95" fill="#00f"/><circle cx="397.5" cy="778.2" r="2.95" fill="#00f"/><circle cx="403.9" cy="778.2" r="2.95" fill="#00f"/><circle cx="411.8" cy="778.2" r="2.95" fill="#f00"/><circle cx="418.2" cy="778.2" r="2.95" fill="#00f"/><circle cx="424.5" cy="778.2" r="2.95" fill="#00f"/><circle cx="431.0" cy="778.2" r="2.95" fill="#00f"/><circle cx="437.5" cy="778.2" r="2.95" fill="#00f"/><circle cx="443.8" cy="778.2" r="2.95" fill="#00f"/><circle cx="424.7" cy="678.5" r="2.95" fill="#00f"/><circle cx="431.0" cy="677.8" r="2.95" fill="#00f"/><circle cx="424.7" cy="697.2" r="2.95" fill="#00f"/><circle cx="431.0" cy="696.8" r="2.95" fill="#f00"/><circle cx="418.5" cy="705.2" r="2.95" fill="#00f"/><circle cx="424.7" cy="707.0" r="2.95" fill="#00f"/><circle cx="431.0" cy="707.0" r="2.95" fill="#00f"/><circle cx="436.6" cy="703.9" r="2.95" fill="#00f"/><circle cx="393.0" cy="710.0" r="2.95" fill="#00f"/><circle cx="399.3" cy="711.2" r="2.95" fill="#f00"/><circle cx="405.5" cy="712.8" r="2.95" fill="#00f"/><circle cx="412.0" cy="713.5" r="2.95" fill="#00f"/><circle cx="418.3" cy="714.0" r="2.95" fill="#00f"/><circle cx="424.7" cy="715.2" r="2.95" fill="#00f"/><circle cx="431.0" cy="714.0" r="2.95" fill="#00f"/><circle cx="438.6" cy="712.9" r="2.95" fill="#00f"/><circle cx="445.0" cy="711.9" r="2.95" fill="#00f"/><circle cx="451.3" cy="710.4" r="2.95" fill="#00f"/><circle cx="457.7" cy="709.9" r="2.95" fill="#00f"/><circle cx="413.2" cy="719.8" r="2.95" fill="#f00"/><circle cx="419.5" cy="720.5" r="2.95" fill="#00f"/><circle cx="435.6" cy="718.7" r="2.95" fill="#00f"/><circle cx="424.7" cy="724.5" r="2.95" fill="#00f"/><circle cx="431.0" cy="723.0" r="2.95" fill="#00f"/></g><line x1="328.92" y1="778.2" x2="377.32" y2="778.2" stroke="#000" stroke-width="0.8"/><line x1="400.68" y1="732.5" x2="449.08" y2="732.5" stroke="#000" stroke-width="0.8"/><rect x="311.5" y="651.1" width="155.00" height="132.30" fill="none" stroke="#000" stroke-width="0.8"/>
<line x1="535.00" y1="778.50" x2="543.0" y2="778.50" stroke="#000" stroke-width="0.8"/><text transform="translate(531.20,782.75) scale(1,1.06)" font-size="11.8" text-anchor="end">1</text><line x1="535.00" y1="758.08" x2="543.0" y2="758.08" stroke="#000" stroke-width="0.8"/><text transform="translate(531.20,762.33) scale(1,1.06)" font-size="11.8" text-anchor="end">2</text><line x1="535.00" y1="737.67" x2="543.0" y2="737.67" stroke="#000" stroke-width="0.8"/><text transform="translate(531.20,741.92) scale(1,1.06)" font-size="11.8" text-anchor="end">3</text><line x1="535.00" y1="717.25" x2="543.0" y2="717.25" stroke="#000" stroke-width="0.8"/><text transform="translate(531.20,721.50) scale(1,1.06)" font-size="11.8" text-anchor="end">4</text><line x1="535.00" y1="696.83" x2="543.0" y2="696.83" stroke="#000" stroke-width="0.8"/><text transform="translate(531.20,701.08) scale(1,1.06)" font-size="11.8" text-anchor="end">5</text><line x1="535.00" y1="676.42" x2="543.0" y2="676.42" stroke="#000" stroke-width="0.8"/><text transform="translate(531.20,680.67) scale(1,1.06)" font-size="11.8" text-anchor="end">6</text><line x1="535.00" y1="656.00" x2="543.0" y2="656.00" stroke="#000" stroke-width="0.8"/><text transform="translate(531.20,660.25) scale(1,1.06)" font-size="11.8" text-anchor="end">7</text><text transform="translate(512.40,717.25) rotate(-90)" font-size="11.8" text-anchor="middle">PF16 IgG4 titer (log)</text><text transform="translate(584.73,808.90) scale(1,1.06)" font-size="11.8" text-anchor="middle">012M</text><text transform="translate(656.67,808.90) scale(1,1.06)" font-size="11.8" text-anchor="middle">Fx017M</text><text transform="translate(620.70,826.15) scale(1,1.06)" font-size="11.8" text-anchor="middle">Group</text><text transform="translate(620.70,659.10) scale(1,1.06)" font-size="9.9" text-anchor="middle">p = 0</text><clipPath id="c32"><rect x="543.0" y="651.1" width="155.40" height="132.30"/></clipPath><g clip-path="url(#c32)"><circle cx="584.0" cy="705.5" r="2.95" fill="#f00"/><circle cx="590.0" cy="708.5" r="2.95" fill="#f00"/><circle cx="584.5" cy="712.0" r="2.95" fill="#00f"/><circle cx="594.8" cy="716.0" r="2.95" fill="#00f"/><circle cx="578.2" cy="720.8" r="2.95" fill="#00f"/><circle cx="584.5" cy="721.5" r="2.95" fill="#00f"/><circle cx="590.8" cy="721.3" r="2.95" fill="#00f"/><circle cx="558.9" cy="778.1" r="2.95" fill="#00f"/><circle cx="565.4" cy="778.1" r="2.95" fill="#00f"/><circle cx="571.8" cy="778.1" r="2.95" fill="#00f"/><circle cx="578.3" cy="778.1" r="2.95" fill="#f00"/><circle cx="584.6" cy="778.1" r="2.95" fill="#00f"/><circle cx="590.9" cy="778.1" r="2.95" fill="#00f"/><circle cx="597.4" cy="778.1" r="2.95" fill="#f00"/><circle cx="603.8" cy="778.1" r="2.95" fill="#f00"/><circle cx="610.3" cy="778.1" r="2.95" fill="#f00"/><circle cx="654.5" cy="669.0" r="2.95" fill="#00f"/><circle cx="647.2" cy="673.8" r="2.95" fill="#00f"/><circle cx="658.5" cy="674.0" r="2.95" fill="#00f"/><circle cx="641.8" cy="678.2" r="2.95" fill="#00f"/><circle cx="652.8" cy="677.0" r="2.95" fill="#00f"/><circle cx="664.0" cy="679.2" r="2.95" fill="#00f"/><circle cx="670.5" cy="678.5" r="2.95" fill="#00f"/><circle cx="647.2" cy="682.0" r="2.95" fill="#f00"/><circle cx="655.8" cy="682.8" r="2.95" fill="#00f"/><circle cx="661.5" cy="685.5" r="2.95" fill="#00f"/><circle cx="668.0" cy="685.2" r="2.95" fill="#00f"/><circle cx="650.2" cy="687.5" r="2.95" fill="#00f"/><circle cx="656.5" cy="689.2" r="2.95" fill="#f00"/><circle cx="664.0" cy="691.8" r="2.95" fill="#00f"/><circle cx="642.2" cy="697.0" r="2.95" fill="#00f"/><circle cx="651.2" cy="697.8" r="2.95" fill="#00f"/><circle cx="658.5" cy="695.2" r="2.95" fill="#00f"/><circle cx="656.5" cy="701.5" r="2.95" fill="#00f"/><circle cx="662.8" cy="700.2" r="2.95" fill="#00f"/><circle cx="669.0" cy="700.5" r="2.95" fill="#f00"/><circle cx="645.2" cy="702.8" r="2.95" fill="#00f"/><circle cx="650.8" cy="706.2" r="2.95" fill="#00f"/><circle cx="656.8" cy="708.5" r="2.95" fill="#00f"/><circle cx="663.0" cy="707.2" r="2.95" fill="#00f"/><circle cx="646.0" cy="711.0" r="2.95" fill="#00f"/><circle cx="652.0" cy="713.0" r="2.95" fill="#00f"/><circle cx="662.0" cy="714.2" r="2.95" fill="#00f"/><circle cx="656.5" cy="717.8" r="2.95" fill="#00f"/><circle cx="656.5" cy="728.0" r="2.95" fill="#00f"/><circle cx="662.5" cy="725.8" r="2.95" fill="#f00"/></g><line x1="560.53" y1="760.8" x2="608.93" y2="760.8" stroke="#000" stroke-width="0.8"/><line x1="632.47" y1="696.5" x2="680.87" y2="696.5" stroke="#000" stroke-width="0.8"/><rect x="543.0" y="651.1" width="155.40" height="132.30" fill="none" stroke="#000" stroke-width="0.8"/>
</g></svg></body></html>
